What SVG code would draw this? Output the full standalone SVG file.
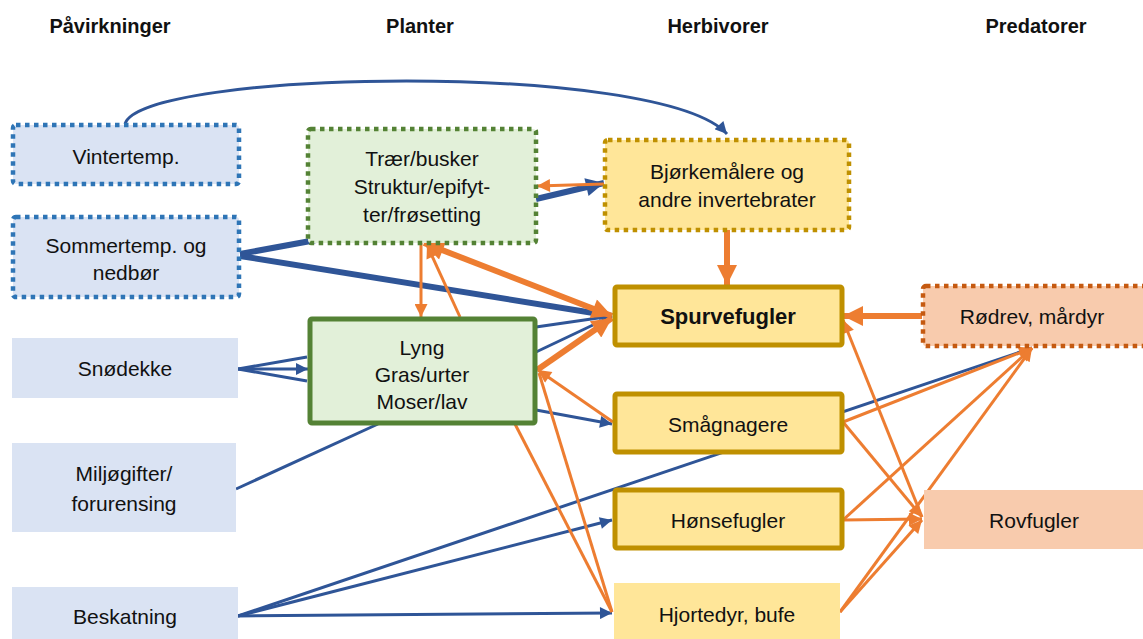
<svg xmlns="http://www.w3.org/2000/svg" width="1143" height="639" viewBox="0 0 1143 639">
<style>
text{font-family:"Liberation Sans",Arial,sans-serif;font-size:21px;fill:#111;text-anchor:middle}
.hd{font-size:20px;font-weight:bold}
.b{fill:none;stroke:#2f5597;stroke-width:3}
.o{fill:none;stroke:#ed7d31;stroke-width:3}
.thk{stroke-width:6}
.nb{fill:#dae3f3}
.nbd{fill:#dae3f3;stroke:#2e75b6;stroke-width:4.5;stroke-dasharray:4.5 4.5}
.ngd{fill:#e2f0d9;stroke:#548235;stroke-width:4.5;stroke-dasharray:4.5 4.5}
.ngs{fill:#e2f0d9;stroke:#548235;stroke-width:5}
.nyd{fill:#ffe699;stroke:#bf9000;stroke-width:4.5;stroke-dasharray:4.5 4.5}
.nys{fill:#ffe699;stroke:#bf9000;stroke-width:5}
.ny{fill:#ffe699}
.npd{fill:#f8cbad;stroke:#c55a11;stroke-width:4.5;stroke-dasharray:4.5 4.5}
.np{fill:#f8cbad}
</style>
<defs>
<marker id="ab" viewBox="0 0 10 10" refX="10" refY="5" markerUnits="userSpaceOnUse" markerWidth="14" markerHeight="12" orient="auto-start-reverse"><path d="M0,0L10,5L0,10z" fill="#2f5597"/></marker>
<marker id="abB" viewBox="0 0 10 10" refX="10" refY="5" markerUnits="userSpaceOnUse" markerWidth="20" markerHeight="18" orient="auto-start-reverse"><path d="M0,0L10,5L0,10z" fill="#2f5597"/></marker>
<marker id="ao" viewBox="0 0 10 10" refX="10" refY="5" markerUnits="userSpaceOnUse" markerWidth="15" markerHeight="13" orient="auto-start-reverse"><path d="M0,0L10,5L0,10z" fill="#ed7d31"/></marker>
<marker id="aoB" viewBox="0 0 10 10" refX="10" refY="5" markerUnits="userSpaceOnUse" markerWidth="22" markerHeight="20" orient="auto-start-reverse"><path d="M0,0L10,5L0,10z" fill="#ed7d31"/></marker>
</defs>
<rect width="1143" height="639" fill="#fff"/>
<g id="headers">
<text class="hd" x="110" y="33">Påvirkninger</text>
<text class="hd" x="420" y="33">Planter</text>
<text class="hd" x="718" y="33">Herbivorer</text>
<text class="hd" x="1036" y="33">Predatorer</text>
</g>
<g id="connectors">
<line class="b" x1="238" y1="616" x2="1032" y2="348"/>
<path class="b" stroke-width="3.5" d="M125,124 C140,70 660,60 727,134" marker-end="url(#ab)"/>
<line class="b thk" x1="240" y1="254" x2="316" y2="240"/>
<line class="b thk" x1="240" y1="256" x2="612" y2="316" marker-end="url(#ab)"/>
<line class="b" x1="238" y1="369" x2="307" y2="357"/>
<line class="b" x1="238" y1="369" x2="307" y2="381"/>
<line class="b" x1="238" y1="369" x2="308" y2="369" marker-end="url(#ab)"/>
<line class="b" x1="236" y1="489" x2="378" y2="424"/>
<line class="b" x1="536" y1="327" x2="612" y2="316"/>
<line class="b" x1="536" y1="352" x2="612" y2="316"/>
<line class="b thk" x1="536" y1="199" x2="604" y2="183" marker-end="url(#abB)"/>
<line class="b" x1="536" y1="410" x2="612" y2="424" marker-end="url(#ab)"/>
<line class="b" x1="238" y1="616" x2="612" y2="520" marker-end="url(#ab)"/>
<line class="b" x1="238" y1="616" x2="612" y2="613" marker-end="url(#ab)"/>
<line class="o" x1="604" y1="184" x2="537" y2="186" marker-end="url(#ao)"/>
<line class="o thk" x1="727" y1="230" x2="727" y2="285" marker-end="url(#aoB)"/>
<line class="o thk" x1="424" y1="243" x2="612" y2="316" marker-start="url(#aoB)" marker-end="url(#aoB)"/>
<line class="o" x1="421" y1="243" x2="421" y2="317" marker-end="url(#ao)"/>
<line class="o" x1="460" y1="317" x2="427" y2="245" marker-end="url(#ao)"/>
<line class="o thk" x1="537" y1="370" x2="612" y2="318" marker-end="url(#aoB)"/>
<line class="o" x1="613" y1="422" x2="538" y2="370" marker-end="url(#ao)"/>
<line class="o" x1="612" y1="612" x2="539" y2="373"/>
<line class="o" x1="515" y1="424" x2="612" y2="612"/>
<line class="o thk" x1="922" y1="316" x2="843" y2="316" marker-end="url(#aoB)"/>
<line class="o" x1="922" y1="517" x2="843" y2="320" marker-end="url(#ao)"/>
<line class="o" x1="843" y1="422" x2="1032" y2="348" marker-end="url(#ao)"/>
<line class="o" x1="843" y1="422" x2="922" y2="517" marker-end="url(#ao)"/>
<line class="o" x1="843" y1="520" x2="922" y2="519" marker-end="url(#ao)"/>
<line class="o" x1="843" y1="520" x2="1032" y2="348" marker-end="url(#ao)"/>
<line class="o" x1="840" y1="612" x2="1032" y2="348" marker-end="url(#ao)"/>
<line class="o" x1="840" y1="612" x2="922" y2="520" marker-end="url(#ao)"/>
</g>
<g id="vintertemp"><rect class="nbd" x="13" y="125" width="226" height="59" rx="3"/><text x="126" y="164">Vintertemp.</text></g>
<g id="sommertemp"><rect class="nbd" x="13" y="217" width="226" height="80" rx="3"/><text x="126" y="253">Sommertemp. og</text><text x="126" y="280">nedbør</text></g>
<g id="snodekke"><rect class="nb" x="12" y="338" width="226" height="60"/><text x="125" y="376">Snødekke</text></g>
<g id="miljogifter"><rect class="nb" x="12" y="443" width="224" height="89"/><text x="124" y="481">Miljøgifter/</text><text x="124" y="511">forurensing</text></g>
<g id="beskatning"><rect class="nb" x="12" y="587" width="226" height="52"/><text x="125" y="624">Beskatning</text></g>
<g id="traer"><rect class="ngd" x="308" y="129" width="228" height="114" rx="3"/><text x="422" y="166">Trær/busker</text><text x="422" y="194">Struktur/epifyt-</text><text x="422" y="222">ter/frøsetting</text></g>
<g id="lyng"><rect class="ngs" x="310" y="319" width="225" height="104" rx="2"/><text x="422" y="355">Lyng</text><text x="422" y="382">Gras/urter</text><text x="422" y="409">Moser/lav</text></g>
<g id="bjorkemalere"><rect class="nyd" x="605" y="140" width="244" height="90" rx="3"/><text x="727" y="179">Bjørkemålere og</text><text x="727" y="207">andre invertebrater</text></g>
<g id="spurvefugler"><rect class="nys" x="615" y="287" width="227" height="58" rx="2"/><text x="728" y="324" style="font-weight:bold;font-size:22px">Spurvefugler</text></g>
<g id="smagnagere"><rect class="nys" x="615" y="394" width="227" height="58" rx="2"/><text x="728" y="432">Smågnagere</text></g>
<g id="honsefugler"><rect class="nys" x="615" y="490" width="227" height="58" rx="2"/><text x="728" y="528">Hønsefugler</text></g>
<g id="hjortedyr"><rect class="ny" x="614" y="583" width="226" height="56"/><text x="727" y="622">Hjortedyr, bufe</text></g>
<g id="rodrev"><rect class="npd" x="923" y="286" width="224" height="60" rx="3"/><text x="1032" y="324">Rødrev, mårdyr</text></g>
<g id="rovfugler"><rect class="np" x="924" y="490" width="219" height="59"/><text x="1034" y="528">Rovfugler</text></g>
</svg>
